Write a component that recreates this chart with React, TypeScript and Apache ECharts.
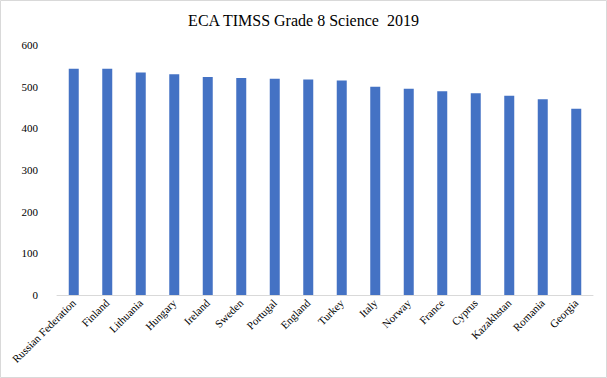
import React, { useEffect, useRef } from "react";
import * as echarts from "echarts";

const categories = [
  "Russian Federation", "Finland", "Lithuania", "Hungary", "Ireland", "Sweden",
  "Portugal", "England", "Turkey", "Italy", "Norway", "France", "Cyprus",
  "Kazakhstan", "Romania", "Georgia",
];
const scores = [543, 543, 534, 530, 523, 521, 519, 517, 515, 500, 495, 489, 484, 478, 470, 447];
const titleText = "ECA TIMSS Grade 8 Science  2019";

export default function App() {
  const ref = useRef<HTMLDivElement>(null);
  useEffect(() => {
    document.body.style.margin = "0";
    const chart = echarts.init(ref.current!, null, { renderer: "svg" });
    const font = "'Liberation Serif', 'Times New Roman', serif";
    chart.setOption({
      animation: false,
      backgroundColor: "#ffffff",
      title: {
        text: titleText,
        left: "center",
        top: 7,
        textStyle: { fontFamily: font, fontSize: 16, fontWeight: "normal", color: "#000" },
      },
      graphic: [
        {
          type: "rect",
          shape: { x: 0.5, y: 0.5, width: 606, height: 377 },
          style: { fill: "none", stroke: "#d9d9d9", lineWidth: 1 },
          silent: true,
        },
      ],
      grid: { left: 57, right: 14, top: 45, bottom: 83, containLabel: false },
      xAxis: {
        type: "category",
        data: categories,
        axisLine: { lineStyle: { color: "#d9d9d9" } },
        axisTick: { show: false },
        axisLabel: {
          rotate: 45,
          interval: 0,
          fontFamily: font,
          fontSize: 11,
          color: "#000",
          margin: 6,
        },
      },
      yAxis: {
        type: "value",
        min: 0,
        max: 600,
        interval: 100,
        splitLine: { show: false },
        axisLine: { show: false },
        axisTick: { show: false },
        axisLabel: { fontFamily: font, fontSize: 11, color: "#000", margin: 19 },
      },
      series: [
        {
          type: "bar",
          data: scores,
          barWidth: 10,
          itemStyle: { color: "#4472C4" },
        },
      ],
    });
    return () => chart.dispose();
  }, []);
  return <div ref={ref} style={{ width: 607, height: 378 }} />;
}
